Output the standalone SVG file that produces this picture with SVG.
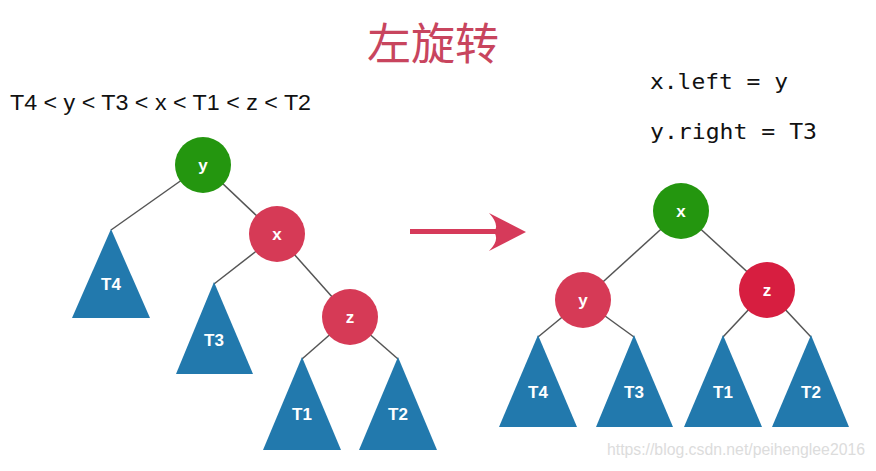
<svg xmlns="http://www.w3.org/2000/svg" width="876" height="471" viewBox="0 0 876 471">
<style>
.edge{stroke:#555;stroke-width:1.5;fill:none}
.tri{fill:#2279ad}
.green{fill:#24960f}
.red{fill:#d63a56}
.red2{fill:#d71e40}
.lbl{font-family:"Liberation Sans",Arial,sans-serif;font-weight:bold;font-size:17px;fill:#fff;text-anchor:middle}
.code{font-family:"DejaVu Sans Mono",monospace;font-size:22px;fill:#111}
</style>
<rect width="876" height="471" fill="#fff"/>
<text x="433" y="60" font-family="'Noto Sans CJK SC',sans-serif" font-size="44" fill="#c8455e" text-anchor="middle">左旋转</text>
<text x="10" y="110" font-family="'Liberation Sans',Arial,sans-serif" font-size="22" fill="#111" textLength="301" lengthAdjust="spacingAndGlyphs">T4 &lt; y &lt; T3 &lt; x &lt; T1 &lt; z &lt; T2</text>
<text class="code" x="650" y="89" textLength="138" lengthAdjust="spacingAndGlyphs">x.left = y</text>
<text class="code" x="650" y="139" textLength="167" lengthAdjust="spacingAndGlyphs">y.right = T3</text>
<g id="connectors">
<line class="edge" x1="203" y1="165" x2="111" y2="230"/>
<line class="edge" x1="203" y1="165" x2="277" y2="235"/>
<line class="edge" x1="277" y1="235" x2="214" y2="284"/>
<line class="edge" x1="277" y1="235" x2="350" y2="317"/>
<line class="edge" x1="350" y1="317" x2="302" y2="359"/>
<line class="edge" x1="350" y1="317" x2="398" y2="359"/>
<line class="edge" x1="681" y1="211" x2="583" y2="300"/>
<line class="edge" x1="681" y1="211" x2="767" y2="290"/>
<line class="edge" x1="583" y1="300" x2="538" y2="337"/>
<line class="edge" x1="583" y1="300" x2="634" y2="337"/>
<line class="edge" x1="767" y1="290" x2="723" y2="337"/>
<line class="edge" x1="767" y1="290" x2="811" y2="337"/>
<g id="arrow">
<rect x="410" y="229" width="86" height="5" fill="#d63a5a"/>
<path d="M526 232 L489 213 Q500 225 494 232 Q500 240 489 251 Z" fill="#d63a5a"/>
</g>
</g>
<g id="L_y"><circle class="green" cx="203" cy="165" r="28"/><text class="lbl" x="203" y="171">y</text></g>
<g id="L_x"><circle class="red" cx="277" cy="234" r="28"/><text class="lbl" x="277" y="240">x</text></g>
<g id="L_z"><circle class="red" cx="350" cy="317" r="28"/><text class="lbl" x="350" y="323">z</text></g>
<g id="L_T4"><polygon class="tri" points="111,229 72,318 150,318"/><text class="lbl" x="111" y="290">T4</text></g>
<g id="L_T3"><polygon class="tri" points="214,282 176,374 253,374"/><text class="lbl" x="214" y="346">T3</text></g>
<g id="L_T1"><polygon class="tri" points="302,357 263,450 341,450"/><text class="lbl" x="302" y="420">T1</text></g>
<g id="L_T2"><polygon class="tri" points="398,357 359,450 437,450"/><text class="lbl" x="398" y="420">T2</text></g>
<g id="R_x"><circle class="green" cx="681" cy="211" r="28"/><text class="lbl" x="681" y="217">x</text></g>
<g id="R_y"><circle class="red" cx="583" cy="300" r="28"/><text class="lbl" x="583" y="306">y</text></g>
<g id="R_z"><circle class="red2" cx="767" cy="290" r="28"/><text class="lbl" x="767" y="296">z</text></g>
<g id="R_T4"><polygon class="tri" points="538,335 499,427 577,427"/><text class="lbl" x="538" y="398">T4</text></g>
<g id="R_T3"><polygon class="tri" points="634,335 596,427 673,427"/><text class="lbl" x="634" y="398">T3</text></g>
<g id="R_T1"><polygon class="tri" points="723,335 684,427 762,427"/><text class="lbl" x="723" y="398">T1</text></g>
<g id="R_T2"><polygon class="tri" points="811,335 772,427 849,427"/><text class="lbl" x="811" y="398">T2</text></g>
<text x="607" y="455" font-family="'Liberation Sans',Arial,sans-serif" font-size="16" fill="#dcdcdc" textLength="258" lengthAdjust="spacingAndGlyphs">https://blog.csdn.net/peihenglee2016</text>
</svg>
